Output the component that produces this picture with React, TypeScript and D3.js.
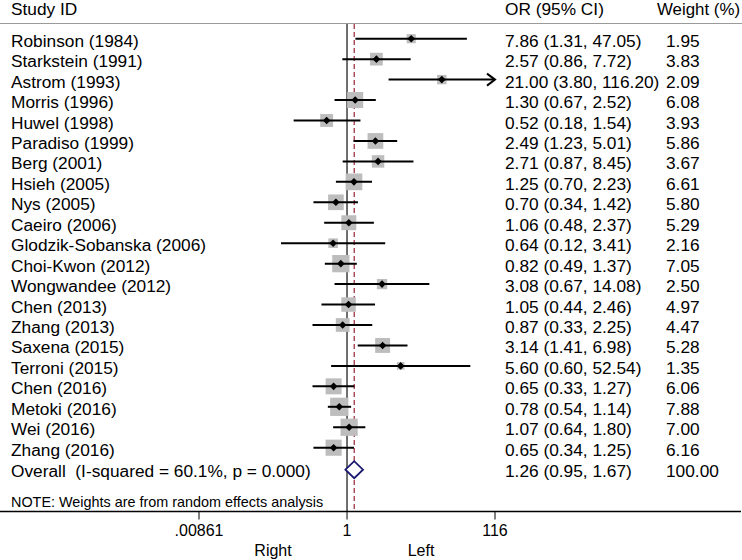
import React from "react";
import * as d3 from "d3";

const studies = [
  "Robinson (1984)", "Starkstein (1991)", "Astrom (1993)", "Morris (1996)", "Huwel (1998)",
  "Paradiso (1999)", "Berg (2001)", "Hsieh (2005)", "Nys (2005)", "Caeiro (2006)",
  "Glodzik-Sobanska (2006)", "Choi-Kwon (2012)", "Wongwandee (2012)", "Chen (2013)", "Zhang (2013)",
  "Saxena (2015)", "Terroni (2015)", "Chen (2016)", "Metoki (2016)", "Wei (2016)", "Zhang (2016)",
];
const orValues = [7.86, 2.57, 21.0, 1.3, 0.52, 2.49, 2.71, 1.25, 0.7, 1.06, 0.64, 0.82, 3.08, 1.05, 0.87, 3.14, 5.6, 0.65, 0.78, 1.07, 0.65];
const lowerCI = [1.31, 0.86, 3.8, 0.67, 0.18, 1.23, 0.87, 0.7, 0.34, 0.48, 0.12, 0.49, 0.67, 0.44, 0.33, 1.41, 0.6, 0.33, 0.54, 0.64, 0.34];
const upperCI = [47.05, 7.72, 116.2, 2.52, 1.54, 5.01, 8.45, 2.23, 1.42, 2.37, 3.41, 1.37, 14.08, 2.46, 2.25, 6.98, 52.54, 1.27, 1.14, 1.8, 1.25];
const weights = [1.95, 3.83, 2.09, 6.08, 3.93, 5.86, 3.67, 6.61, 5.8, 5.29, 2.16, 7.05, 2.5, 4.97, 4.47, 5.28, 1.35, 6.06, 7.88, 7.0, 6.16];

const overallLabel = "Overall  (I-squared = 60.1%, p = 0.000)";
const overallOR = 1.26;
const overallLower = 0.95;
const overallUpper = 1.67;
const overallWeight = 100.0;

const tickValues = [0.00861, 1, 116];
const tickLabels = [".00861", "1", "116"];
const sideLabels = ["Right", "Left"];
const noteText = "NOTE: Weights are from random effects analysis";

const W = 742;
const H = 560;
const FONT = "'Liberation Sans', Arial, Helvetica, sans-serif";

export default function App() {
  const x = d3.scaleLog().domain([0.00861, 116]).range([199, 495]);
  const y = d3.scaleLinear().domain([0, 21]).range([38.7, 38.7 + 21 * 20.45]);
  const xmin = 199, xmax = 495;
  const headerY = 23.5;
  const axisY = 511.5;
  const fs = 17.3;
  const fmt = (v: number) => v.toFixed(2);
  const boxK = 6.5;

  return (
    <svg width={W} height={H} style={{ position: "absolute", left: 0, top: 0, background: "#fff" }} fontFamily={FONT}>
      <rect x={0} y={0} width={W} height={H} fill="#fff" />
      {/* headers */}
      <text x={11} y={15} fontSize={fs}>Study ID</text>
      <text x={505} y={15} fontSize={fs}>OR (95% CI)</text>
      <text x={657} y={15} fontSize={fs} textLength={83} lengthAdjust="spacingAndGlyphs">Weight (%)</text>
      <line x1={0} x2={W} y1={headerY} y2={headerY} stroke="#9a9a9a" strokeWidth={1.2} />

      {/* reference lines */}
      <line x1={x(1)} x2={x(1)} y1={headerY + 0.5} y2={axisY} stroke="#222" strokeWidth={1.3} />
      <line x1={x(overallOR)} x2={x(overallOR)} y1={headerY + 0.5} y2={axisY} stroke="#9b2335" strokeWidth={1.2} strokeDasharray="5,3" />

      {studies.map((s, i) => {
        const cy = y(i);
        const cx = x(orValues[i]);
        const side = boxK * Math.sqrt(weights[i]);
        const lo = Math.max(xmin, x(lowerCI[i]));
        const hiRaw = x(upperCI[i]);
        const arrow = hiRaw > xmax;
        const hi = Math.min(xmax, hiRaw);
        return (
          <g key={i}>
            <text x={11} y={cy + 8} fontSize={fs}>{s}</text>
            <text x={505} y={cy + 8} fontSize={fs}>{`${fmt(orValues[i])} (${fmt(lowerCI[i])}, ${fmt(upperCI[i])})`}</text>
            <text x={666} y={cy + 8} fontSize={fs}>{fmt(weights[i])}</text>
            <rect x={cx - side / 2} y={cy - side / 2} width={side} height={side} fill="#bdbdbd" />
            <line x1={lo} x2={hi} y1={cy} y2={cy} stroke="#000" strokeWidth={2} />
            {arrow && (
              <path d={`M${hi - 8},${cy - 6} L${hi},${cy} L${hi - 8},${cy + 6}`} fill="none" stroke="#000" strokeWidth={2} />
            )}
            <path d={`M${cx - 3.8},${cy} L${cx},${cy - 3.8} L${cx + 3.8},${cy} L${cx},${cy + 3.8} Z`} fill="#000" />
          </g>
        );
      })}

      {/* overall */}
      {(() => {
        const cy = y(21) + 1.5;
        const l = x(overallLower), r = x(overallUpper), c = x(overallOR);
        return (
          <g>
            <text x={11} y={cy + 7} fontSize={fs} style={{ whiteSpace: "pre" }}>{overallLabel}</text>
            <text x={505} y={cy + 7} fontSize={fs}>{`${fmt(overallOR)} (${fmt(overallLower)}, ${fmt(overallUpper)})`}</text>
            <text x={666} y={cy + 7} fontSize={fs}>{fmt(overallWeight)}</text>
            <path d={`M${l},${cy} L${c},${cy - 8.5} L${r},${cy} L${c},${cy + 8.5} Z`} fill="#fff" stroke="#1a1a6e" strokeWidth={1.8} />
          </g>
        );
      })()}

      <text x={11} y={507} fontSize={14.4}>{noteText}</text>

      {/* axis */}
      <line x1={0} x2={W - 1} y1={axisY} y2={axisY} stroke="#000" strokeWidth={1.3} />
      {tickValues.map((t, i) => (
        <g key={i}>
          <line x1={x(t)} x2={x(t)} y1={axisY} y2={axisY + 8} stroke="#000" strokeWidth={1} />
          <text x={x(t)} y={535.5} fontSize={16} textAnchor="middle">{tickLabels[i]}</text>
        </g>
      ))}
      <text x={(x(tickValues[0]) + x(1)) / 2} y={555.5} fontSize={16} textAnchor="middle">{sideLabels[0]}</text>
      <text x={(x(1) + x(tickValues[2])) / 2} y={555.5} fontSize={16} textAnchor="middle">{sideLabels[1]}</text>
    </svg>
  );
}
